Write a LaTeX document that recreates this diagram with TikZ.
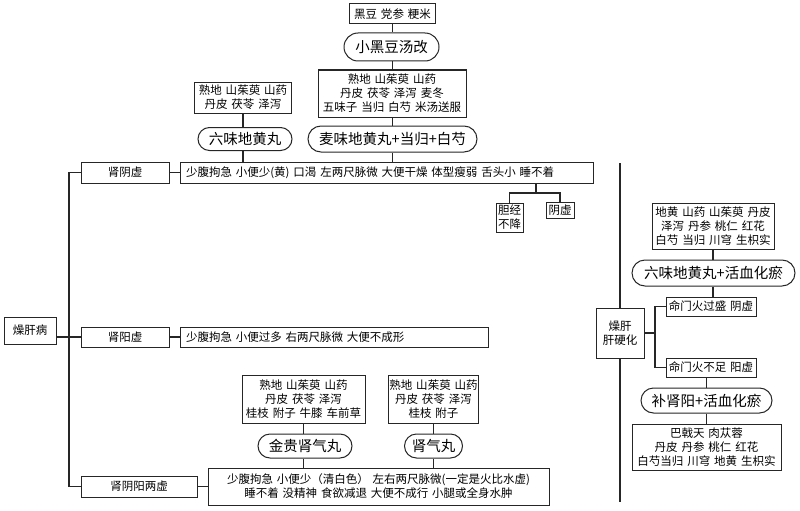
\documentclass[tikz,border=0pt]{standalone}
\usepackage{fontspec}
\setmainfont{Noto Sans CJK SC}[WordSpace=1.5]
\usetikzlibrary{shapes.misc}
\begin{document}
\begin{tikzpicture}[x=1pt,y=-1pt,
  box/.style={draw=black!85, line width=1pt, fill=white, inner sep=0pt, align=center, font=\fontsize{11.5}{14}\selectfont},
  lbox/.style={box, align=left, inner xsep=6pt, inner ysep=0pt},
  pill/.style={draw=black!85, rounded rectangle, line width=1pt, fill=white, inner sep=0pt, font=\fontsize{14.5}{17}\selectfont},
  conn/.style={draw=black!85, line width=1.1pt}]
\useasboundingbox (0,0) rectangle (800,511);

% ---- top column (麦味地黄丸)
\node[box, minimum width=86pt, minimum height=20pt] (top) at (392.5,14) {黑豆 党参 粳米};
\node[pill, minimum width=95pt, minimum height=28pt] (xhd) at (391.5,47) {小黑豆汤改};
\node[box, minimum width=148pt, minimum height=47pt] (mwh) at (392,93.5) {熟地 山茱萸 山药\\丹皮 茯苓 泽泻 麦冬\\五味子 当归 白芍 米汤送服};
\node[pill, minimum width=169pt, minimum height=26pt] (mwp) at (392.5,139) {麦味地黄丸+当归+白芍};

% ---- 六味地黄丸
\node[box, minimum width=97pt, minimum height=31pt] (lwh) at (243,97.5) {熟地 山茱萸 山药\\丹皮 茯苓 泽泻};
\node[pill, minimum width=94pt, minimum height=23pt] (lwp) at (245,139) {六味地黄丸};

% ---- left tree
\node[box, minimum width=52pt, minimum height=27pt] (zgb) at (30,330.5) {燥肝病};
\node[box, minimum width=88pt, minimum height=21pt] (syin) at (125,172.5) {肾阴虚};
\node[lbox, text width=401pt, minimum height=21pt] (sym1) at (386.5,172.5) {少腹拘急 小便少(黄) 口渴 左两尺脉微 大便干燥 体型瘦弱 舌头小 睡不着};
\node[box, minimum width=27pt, minimum height=29pt] (dj) at (509.5,217.5) {胆经\\不降};
\node[box, minimum width=28pt, minimum height=16pt] (yx) at (560,210.5) {阴虚};

\node[box, minimum width=88pt, minimum height=20pt] (syang) at (125,337) {肾阳虚};
\node[lbox, text width=296pt, minimum height=20pt] (sym2) at (334,337) {少腹拘急 小便过多 右两尺脉微 大便不成形};

\node[box, minimum width=116pt, minimum height=21pt] (syy) at (139,486.5) {肾阴阳两虚};
\node[box, minimum width=341pt, minimum height=37pt] (sym3) at (378.5,486.5) {少腹拘急 小便少（清白色） 左右两尺脉微(一定是火比水虚)\\睡不着 没精神 食欲减退 大便不成行 小腿或全身水肿};

\node[box, minimum width=123pt, minimum height=48pt] (jgh) at (303.5,399) {熟地 山茱萸 山药\\丹皮 茯苓 泽泻\\桂枝 附子 牛膝 车前草};
\node[pill, minimum width=94pt, minimum height=24pt] (jgp) at (305,446) {金贵肾气丸};
\node[box, minimum width=90pt, minimum height=48pt] (sqh) at (433.5,399) {熟地 山茱萸 山药\\丹皮 茯苓 泽泻\\桂枝 附子};
\node[pill, minimum width=58pt, minimum height=24pt] (sqp) at (433.5,446) {肾气丸};

% ---- right tree
\coordinate (rt) at (620,163);
\coordinate (rb) at (620,502);
\node[box, minimum width=48pt, minimum height=50pt] (gyh) at (620,333) {燥肝\\肝硬化};
\node[box, minimum width=122pt, minimum height=46pt] (rh1) at (713,226) {地黄 山药 山茱萸 丹皮\\泽泻 丹参 桃仁 红花\\白芍 当归 川穹 生枳实};
\node[pill, minimum width=163pt, minimum height=26pt] (rp1) at (713.5,273) {六味地黄丸+活血化瘀};
\node[box, minimum width=90pt, minimum height=19pt] (mg1) at (711,306.5) {命门火过盛 阴虚};
\node[box, minimum width=90pt, minimum height=19pt] (mg2) at (711,367.5) {命门火不足 阳虚};
\node[pill, minimum width=131pt, minimum height=25pt] (rp2) at (706.5,400.5) {补肾阳+活血化瘀};
\node[box, minimum width=149pt, minimum height=46pt] (rh2) at (706.5,447) {巴戟天 肉苁蓉\\丹皮 丹参 桃仁 红花\\白芍当归 川穹 地黄 生枳实};

% ---- connectors
\draw[conn] (top.south) -- (top.south |- xhd.north);
\draw[conn] (xhd.south -| top) -- (top |- mwh.north);
\draw[conn] (mwh.south -| top) -- (top |- mwp.north);
\draw[conn] (mwp.south -| top) -- (top |- sym1.north);

\draw[conn] (lwh.south) -- (lwh.south |- lwp.north);
\draw[conn] (lwp.south -| lwh) -- (lwh |- sym1.north);

\coordinate (tr) at (69,172.5);
\draw[conn] (syin.west) -- (tr) |- (syy.west);
\draw[conn] (syang.west -| zgb.east) -- (syang.west);
\draw[conn] (syin.east) -- (sym1.west);
\draw[conn] (syang.east) -- (sym2.west);
\draw[conn] (syy.east) -- (sym3.west);

\coordinate (f1) at (536,193);
\draw[conn] (sym1.south -| f1) -- (f1);
\draw[conn] (dj.north) -- (dj.north |- f1) -- (yx.north |- f1) -- (yx.north);

\draw[conn] (jgh.south) -- (jgh.south |- jgp.north);
\draw[conn] (jgp.south -| jgh) -- (jgh |- sym3.north);
\draw[conn] (sqh.south) -- (sqh.south |- sqp.north);
\draw[conn] (sqp.south -| sqh) -- (sqh |- sym3.north);

\draw[conn] (rt) -- (rt |- gyh.north);
\draw[conn] (gyh.south) -- (rb);
\coordinate (f2) at (655,333);
\draw[conn] (gyh.east) -- (f2);
\draw[conn] (mg1.west) -- (mg1.west -| f2) -- (mg2.west -| f2) -- (mg2.west);

\draw[conn] (rh1.south) -- (rh1.south |- rp1.north);
\draw[conn] (rp1.south -| rh1) -- (rh1 |- mg1.north);
\draw[conn] (mg2.south -| rp2) -- (rp2.north);
\draw[conn] (rp2.south) -- (rp2.south |- rh2.north);
\end{tikzpicture}
\end{document}
